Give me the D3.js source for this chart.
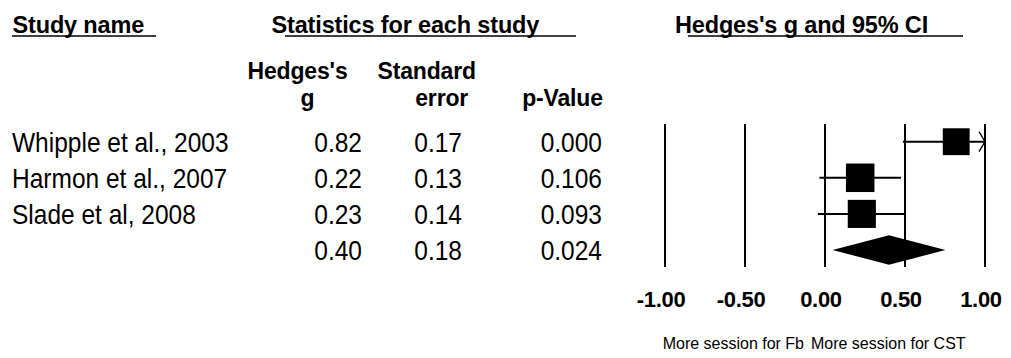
<!DOCTYPE html>
<html>
<head>
<meta charset="utf-8">
<script src="https://cdn.jsdelivr.net/npm/d3@7"></script>
<style>
  html, body { margin: 0; padding: 0; background: #fff; }
  svg { display: block; font-family: "Liberation Sans", Arial, sans-serif; }
  text { fill: #000; }
</style>
</head>
<body>
<svg id="chart" width="1011" height="358"></svg>
<script>
// Study-level results
const studies = ["Whipple et al., 2003", "Harmon et al., 2007", "Slade et al, 2008"];
const hedgesG = [0.82, 0.22, 0.23];
const stdErr = [0.17, 0.13, 0.14];
const pValues = ["0.000", "0.106", "0.093"];

// Pooled (random effects) result
const pooledG = 0.40;
const pooledSE = 0.18;
const pooledP = "0.024";

// Axis
const axisTicks = [-1.00, -0.50, 0.00, 0.50, 1.00];
const axisDomain = [-1, 1];
const favoursLeft = "More session for Fb";
const favoursRight = "More session for CST";

const svg = d3.select("#chart");
const z = 1.96;
const fmt2 = d3.formatLocale({ decimal: ".", thousands: ",", grouping: [3], currency: ["", ""], minus: "-" }).format(".2f");

// Forest plot scales
const x = d3.scaleLinear().domain(axisDomain).range([665, 985]);
const rowIds = [0, 1, 2, 3];
const y = d3.scalePoint().domain(rowIds).range([141.7, 250]);

// Random-effects weights (DerSimonian-Laird) for marker sizing
const wFixed = stdErr.map(s => 1 / (s * s));
const sumW = d3.sum(wFixed);
const meanFixed = d3.sum(hedgesG.map((g, i) => g * wFixed[i])) / sumW;
const Q = d3.sum(hedgesG.map((g, i) => wFixed[i] * (g - meanFixed) ** 2));
const C = sumW - d3.sum(wFixed.map(w => w * w)) / sumW;
const tau2 = Math.max(0, (Q - (studies.length - 1)) / C);
const wRandom = stdErr.map(s => 1 / (s * s + tau2));
const size = d3.scaleSqrt().domain([0, d3.max(wRandom)]).range([0, 28.5]);

// Text helper: places a label at its baseline, optionally stretched vertically
function label(t, px, py, anchor, attrs, sy) {
  const el = svg.append("text")
    .attr("transform", `translate(${px},${py}) scale(1,${sy || 1})`)
    .attr("text-anchor", anchor).text(t);
  Object.entries(attrs || {}).forEach(([k, v]) => el.attr(k, v));
  return el;
}

// Column headers
const bold = { "font-weight": "bold", "font-size": "23.5px", "letter-spacing": "-0.15px" };
label("Study name", 12.5, 33, "start", bold, 1.05);
label("Statistics for each study", 271.5, 33, "start", bold, 1.05);
label("Hedges's g and 95% CI", 675, 33, "start", bold, 1.05);

svg.selectAll("line.hdr")
  .data([[12, 156], [285, 576], [688, 963]])
  .join("line").attr("class", "hdr")
  .attr("x1", d => d[0]).attr("x2", d => d[1])
  .attr("y1", 36).attr("y2", 36)
  .attr("stroke", "#000").attr("stroke-width", 1.6);

const sub = { "font-weight": "bold", "font-size": "23px", "letter-spacing": "-0.15px" };
label("Hedges's", 297.5, 79, "middle", sub, 1.06);
label("g", 307.5, 106, "middle", sub, 1.06);
label("Standard", 426.7, 79, "middle", sub, 1.06);
label("error", 441.7, 106, "middle", sub, 1.06);
label("p-Value", 562.5, 106, "middle", sub, 1.06);

// Table rows
const reg = { "font-size": "24.5px" };
const colG = 362, colSE = 462, colP = 602;
const rows = studies.map((s, i) => ({ name: s, g: hedgesG[i], se: stdErr[i], p: pValues[i], row: i }))
  .concat([{ name: "", g: pooledG, se: pooledSE, p: pooledP, row: 3 }]);

rows.forEach(r => {
  const by = y(r.row) + 10;
  if (r.name) label(r.name, 12, by, "start", reg, 1.1);
  label(fmt2(r.g), colG, by, "end", reg, 1.1);
  label(fmt2(r.se), colSE, by, "end", reg, 1.1);
  label(r.p, colP, by, "end", reg, 1.1);
});

// Reference lines at each tick
svg.selectAll("line.grid")
  .data(axisTicks)
  .join("line").attr("class", "grid")
  .attr("x1", d => x(d)).attr("x2", d => x(d))
  .attr("y1", 124).attr("y2", 267)
  .attr("stroke", "#000").attr("stroke-width", 2);

// Tick labels
svg.selectAll("text.tick")
  .data(axisTicks)
  .join("text").attr("class", "tick")
  .attr("x", d => x(d) - 4).attr("y", 307)
  .attr("text-anchor", "middle")
  .attr("font-weight", "bold").attr("font-size", "22px")
  .attr("letter-spacing", "-0.3px")
  .text(d => fmt2(d));

// Confidence intervals (clipped to the axis range, with an arrow where clipped)
const [dMin, dMax] = axisDomain;
studies.forEach((s, i) => {
  const lo = hedgesG[i] - z * stdErr[i];
  const hi = hedgesG[i] + z * stdErr[i];
  const cy = y(i);
  svg.append("line")
    .attr("x1", x(Math.max(lo, dMin))).attr("x2", x(Math.min(hi, dMax)))
    .attr("y1", cy).attr("y2", cy)
    .attr("stroke", "#000").attr("stroke-width", 2);
  if (hi > dMax) {
    const ax = x(dMax);
    svg.append("path")
      .attr("d", `M${ax - 6},${cy - 10}L${ax},${cy}L${ax - 6},${cy + 10}`)
      .attr("fill", "none").attr("stroke", "#000").attr("stroke-width", 1.3);
  }
  const sz = size(wRandom[i]);
  svg.append("rect")
    .attr("x", x(hedgesG[i]) - sz / 2).attr("y", cy - sz / 2)
    .attr("width", sz).attr("height", sz)
    .attr("fill", "#000");
});

// Pooled estimate diamond
const py = y(3);
const pLo = pooledG - z * pooledSE, pHi = pooledG + z * pooledSE;
svg.append("path")
  .attr("d", `M${x(pLo)},${py}L${x(pooledG)},${py - 14.7}L${x(pHi)},${py}L${x(pooledG)},${py + 14.7}Z`)
  .attr("fill", "#000");

// Direction labels
const foot = { "font-size": "16px" };
label(favoursLeft, x(0) - 21, 349, "end", foot, 1.05);
label(favoursRight, x(0) - 14, 349, "start", foot, 1.05);
</script>
</body>
</html>
